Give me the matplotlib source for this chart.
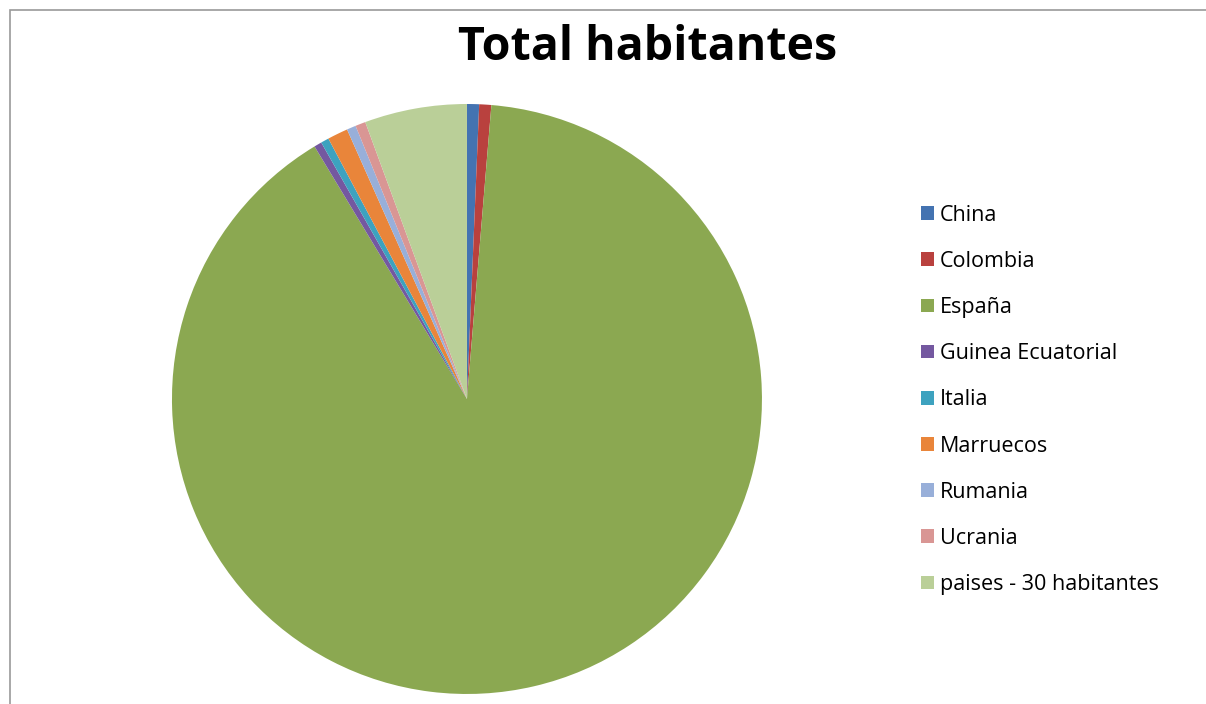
import matplotlib.pyplot as plt
from matplotlib.patches import Rectangle, Patch

# datos (habitantes aprox.)
paises = ['China', 'Colombia', 'España', 'Guinea Ecuatorial', 'Italia',
          'Marruecos', 'Rumania', 'Ucrania', 'paises - 30 habitantes']
habitantes = [33, 33, 4500, 21, 22, 56, 25, 28, 280]
colores = ['#4473B1', '#B9413E', '#8BA851', '#7458A0', '#3DA2BF',
           '#E9853A', '#98AFD9', '#D99694', '#BACF98']

plt.rcParams['font.family'] = ['Open Sans', 'DejaVu Sans']

fig = plt.figure(figsize=(12.06, 7.04), dpi=100)

# marco gris del area del grafico
fig.patches.append(Rectangle((10/1206, -0.05), 1.2, 1 - 10/704 + 0.05,
                             transform=fig.transFigure, fill=False,
                             edgecolor='#9a9a9a', linewidth=1.2))

ax = fig.add_axes([0.1426, 0.0142, 0.4892, 0.8381])
ax.pie(habitantes, colors=colores, startangle=90, counterclock=False,
       radius=1, wedgeprops={'linewidth': 0})
ax.set_xlim(-1, 1)
ax.set_ylim(-1, 1)
ax.set_aspect('equal')
ax.axis('off')

fig.text(648/1206, 1 - 48/704, 'Total habitantes', ha='center', va='center',
         fontsize=33.5, fontweight='bold')

handles = [Patch(facecolor=c, edgecolor='none') for c in colores]
fig.legend(handles, paises, loc='upper left',
           bbox_to_anchor=(912/1206, 1 - 196/704), frameon=False,
           fontsize=15.5, handlelength=0.6, handleheight=0.6,
           handletextpad=0.3, labelspacing=1.17, borderaxespad=0)

fig.savefig('out.png', dpi=100)
